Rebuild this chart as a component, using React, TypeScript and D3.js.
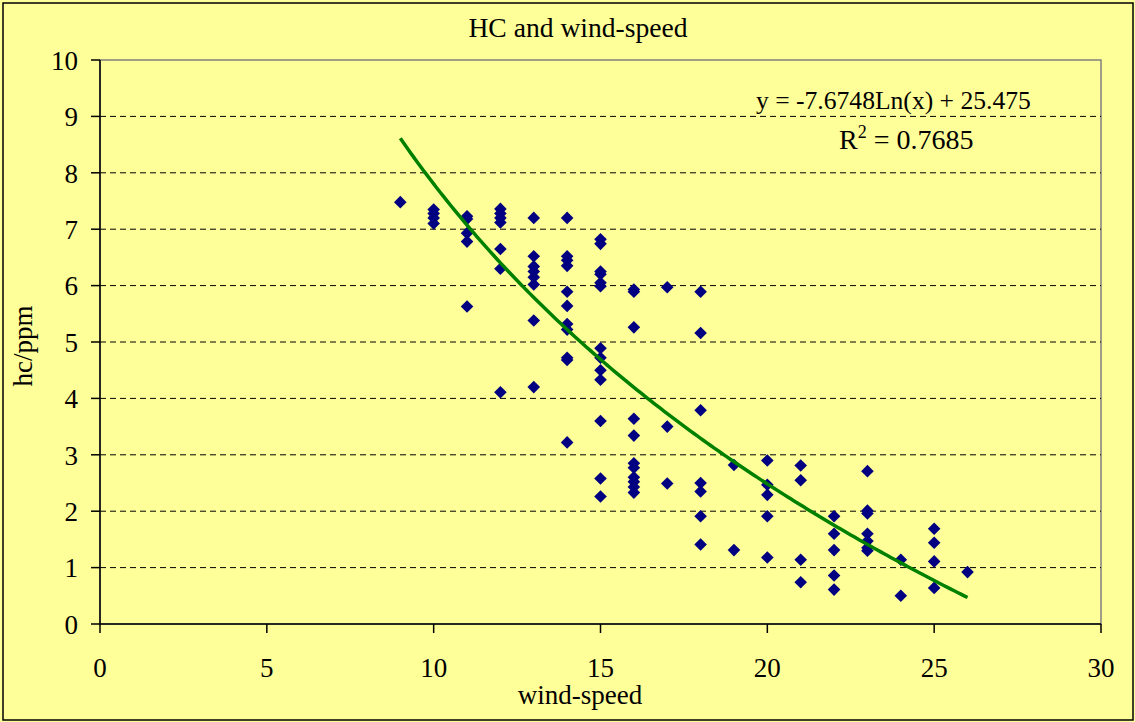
import React from "react";
import * as d3 from "d3";

const windSpeed = [
  9,
  10, 10, 10, 10,
  11, 11, 11, 11, 11,
  12, 12, 12, 12, 12, 12, 12,
  13, 13, 13, 13, 13, 13, 13, 13,
  14, 14, 14, 14, 14, 14, 14, 14, 14, 14, 14,
  15, 15, 15, 15, 15, 15, 15, 15, 15, 15, 15, 15, 15,
  16, 16, 16, 16, 16, 16, 16, 16, 16, 16, 16,
  17, 17, 17,
  18, 18, 18, 18, 18, 18, 18,
  19, 19,
  20, 20, 20, 20, 20,
  21, 21, 21, 21,
  22, 22, 22, 22, 22,
  23, 23, 23, 23, 23, 23, 23,
  24, 24,
  25, 25, 25, 25,
  26,
];

const hcPpm = [
  7.48,
  7.35, 7.28, 7.2, 7.1,
  7.23, 7.18, 6.93, 6.78, 5.63,
  7.36, 7.28, 7.2, 7.12, 6.65, 6.3, 4.11,
  7.2, 6.52, 6.34, 6.25, 6.15, 6.02, 5.38, 4.2,
  7.2, 6.52, 6.45, 6.35, 5.89, 5.64, 5.32, 5.22, 4.72, 4.68, 3.22,
  6.82, 6.74, 6.25, 6.2, 6.05, 5.99, 4.89, 4.72, 4.5, 4.33, 3.6, 2.58, 2.26,
  5.93, 5.89, 5.26, 3.64, 3.34, 2.85, 2.77, 2.6, 2.52, 2.43, 2.33,
  5.97, 3.5, 2.49,
  5.89, 5.16, 3.79, 2.5, 2.35, 1.91, 1.41,
  2.82, 1.31,
  2.9, 2.47, 2.29, 1.91, 1.18,
  2.81, 2.55, 1.14, 0.74,
  1.91, 1.6, 1.31, 0.86, 0.61,
  2.71, 2.01, 1.96, 1.6, 1.47, 1.35, 1.3,
  1.14, 0.5,
  1.69, 1.44, 1.11, 0.64,
  0.92,
];

const xTicks = [0, 5, 10, 15, 20, 25, 30];
const yTicks = [0, 1, 2, 3, 4, 5, 6, 7, 8, 9, 10];
const trendCoefA = -7.6748;
const trendCoefB = 25.475;
const trendRange = [9, 26];
const rSquared = "0.7685";
const title = "HC and wind-speed";
const xLabel = "wind-speed";
const yLabel = "hc/ppm";

const W = 1135;
const H = 722;
const FONT = "'Liberation Serif', 'Times New Roman', serif";
const FS = 27;

export default function App() {
  const x = d3.scaleLinear().domain([0, 30]).range([100, 1101]);
  const y = d3.scaleLinear().domain([0, 10]).range([624, 60]);

  const trendXs = d3.range(trendRange[0], trendRange[1] + 0.0001, 0.1);
  const trendLine = d3
    .line<number>()
    .x((d) => x(d))
    .y((d) => y(trendCoefA * Math.log(d) + trendCoefB))(trendXs);

  const r = 6.3;
  const diamond = `M0,${-r}L${r},0L0,${r}L${-r},0Z`;

  return (
    <svg
      width={W}
      height={H}
      style={{ position: "absolute", left: 0, top: 0 }}
      fontFamily={FONT}
    >
      <rect x={0} y={0} width={W} height={H} fill="#FFFF99" />
      <rect x={3} y={3} width={1130} height={717} fill="#FFFF99" stroke="#000" strokeWidth={1.5} />
      {/* plot area */}
      <rect x={x(0)} y={y(10)} width={x(30) - x(0)} height={y(0) - y(10)} fill="#FFFF99" stroke="#808080" strokeWidth={1.5} />
      {/* gridlines */}
      {yTicks.filter((t) => t > 0 && t < 10).map((t) => (
        <line key={"g" + t} x1={x(0)} x2={x(30)} y1={y(t)} y2={y(t)} stroke="#000" strokeWidth={1} strokeDasharray="6,4" />
      ))}
      {/* axes */}
      <line x1={x(0)} x2={x(0)} y1={y(10)} y2={y(0)} stroke="#000" strokeWidth={1.5} />
      <line x1={x(0)} x2={x(30)} y1={y(0)} y2={y(0)} stroke="#000" strokeWidth={1.5} />
      {yTicks.map((t) => (
        <g key={"yt" + t}>
          <line x1={x(0) - 9} x2={x(0)} y1={y(t)} y2={y(t)} stroke="#000" strokeWidth={1.5} />
          <text x={78} y={y(t)} dy="0.36em" textAnchor="end" fontSize={FS}>{t}</text>
        </g>
      ))}
      {xTicks.map((t) => (
        <g key={"xt" + t}>
          <line x1={x(t)} x2={x(t)} y1={y(0)} y2={y(0) + 9} stroke="#000" strokeWidth={1.5} />
          <text x={x(t)} y={677} textAnchor="middle" fontSize={FS}>{t}</text>
        </g>
      ))}
      {/* points */}
      {windSpeed.map((w, i) => (
        <path key={"p" + i} d={diamond} transform={`translate(${x(w)},${y(hcPpm[i])})`} fill="#000080" />
      ))}
      {/* trend */}
      <path d={trendLine as string} fill="none" stroke="#008000" strokeWidth={3.5} />
      {/* texts */}
      <text x={578} y={37} textAnchor="middle" fontSize={27.6}>{title}</text>
      <text x={580} y={704} textAnchor="middle" fontSize={FS}>{xLabel}</text>
      <text transform="translate(32,346) rotate(-90)" textAnchor="middle" fontSize={FS}>{yLabel}</text>
      <text x={756} y={109} fontSize={25.6}>{`y = ${trendCoefA}Ln(x) + ${trendCoefB}`}</text>
      <text x={839} y={149} fontSize={28}>
        R<tspan fontSize={18} dy={-11}>2</tspan><tspan dy={11}>{` = ${rSquared}`}</tspan>
      </text>
    </svg>
  );
}
